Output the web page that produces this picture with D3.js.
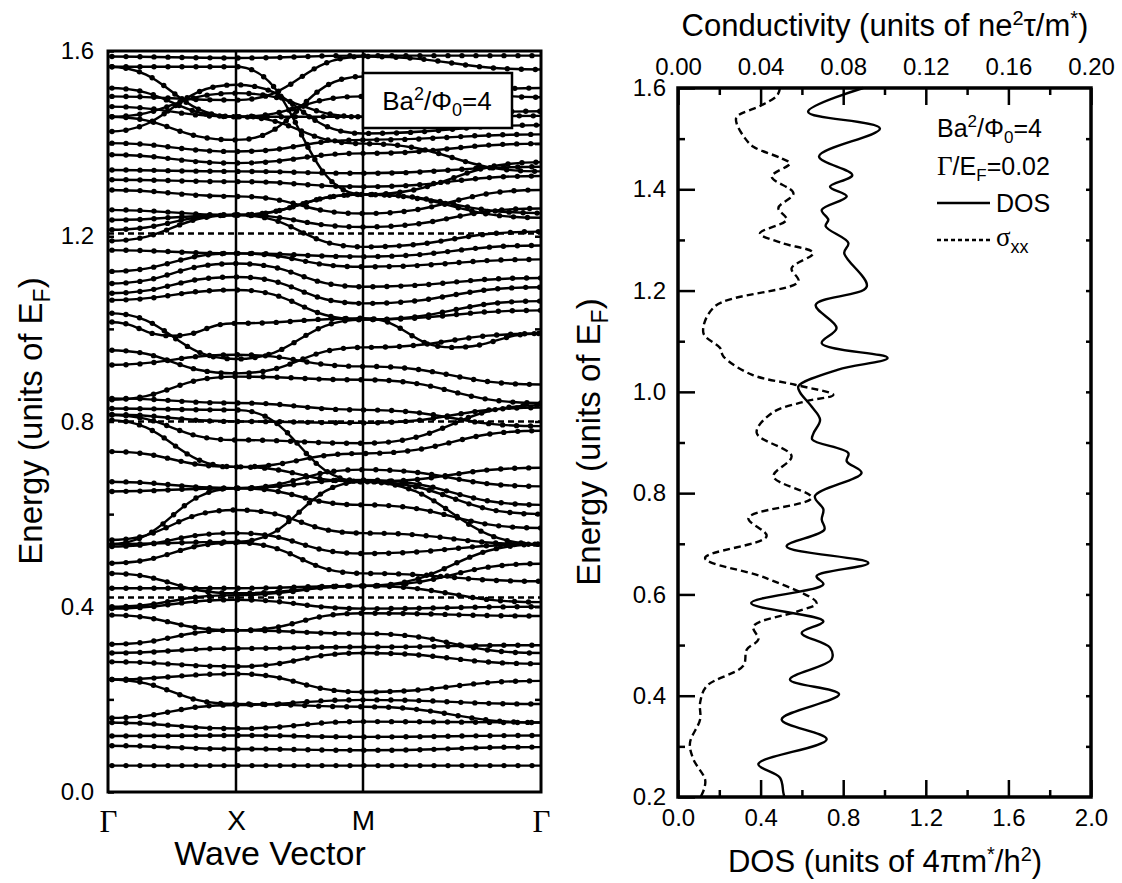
<!DOCTYPE html>
<html>
<head>
<meta charset="utf-8">
<script src="https://cdn.jsdelivr.net/npm/d3@7"></script>
<style>
  body { margin: 0; background: #fff; }
  svg { font-family: "Liberation Sans", Arial, sans-serif; }
</style>
</head>
<body>
<svg id="chart" width="1122" height="883"></svg>
<script>
// ---- data ----
// band energies (units of E_F) at k = [Γ, ΓX-mid, X, XM-mid, M, MΓ-mid, Γ]; null = no mid node
const kLabels = ['Γ', 'X', 'M', 'Γ'];
const kNodes = [0, 0.5, 1, 1.5, 2, 2.5, 3];
const bands = [
  [0.057, null, 0.057, null, 0.057, null, 0.057],
  [0.100, null, 0.093, null, 0.090, null, 0.097],
  [0.121, null, 0.122, null, 0.119, null, 0.122],
  [0.150, null, 0.137, null, 0.152, null, 0.150],
  [0.160, null, 0.188, null, 0.199, null, 0.190],
  [0.243, null, 0.190, null, 0.184, null, 0.150],
  [0.243, null, 0.255, null, 0.216, null, 0.240],
  [0.281, null, 0.271, null, 0.300, null, 0.277],
  [0.300, null, 0.310, null, 0.313, null, 0.317],
  [0.319, null, 0.349, null, 0.342, null, 0.300],
  [0.382, null, 0.349, null, 0.386, null, 0.380],
  [0.396, null, 0.415, null, 0.396, null, 0.400],
  [0.400, null, 0.425, null, 0.445, null, 0.535],
  [0.440, null, 0.440, null, 0.445, null, 0.493],
  [0.472, null, 0.429, null, 0.445, null, 0.410],
  [0.494, null, 0.538, null, 0.472, null, 0.455],
  [0.530, null, 0.559, null, 0.515, null, 0.535],
  [0.535, null, 0.656, null, 0.620, null, 0.570],
  [0.544, null, 0.609, null, 0.559, null, 0.535],
  [0.535, null, 0.540, null, 0.670, null, 0.600],
  [0.649, null, 0.656, null, 0.674, null, 0.620],
  [0.670, null, 0.656, null, 0.696, null, 0.660],
  [0.735, null, 0.702, null, 0.670, null, 0.700],
  [0.803, null, 0.702, null, 0.731, null, 0.780],
  [0.814, null, 0.760, null, 0.753, null, 0.835],
  [0.815, null, 0.800, null, 0.797, null, 0.830],
  [0.828, null, 0.825, null, 0.670, null, 0.535],
  [0.847, null, 0.897, null, 0.890, null, 0.840],
  [0.850, null, 0.840, null, 0.825, null, 0.790],
  [0.922, null, 0.944, null, 0.919, null, 0.880],
  [0.954, null, 0.904, null, 0.960, null, 0.990],
  [1.015, 0.985, 1.012, null, 1.023, 0.960, 0.990],
  [1.034, null, 0.935, null, 1.020, null, 1.060],
  [1.062, null, 1.084, null, 1.020, null, 1.040],
  [1.077, null, 1.112, null, 1.055, null, 1.090],
  [1.098, null, 1.141, null, 1.091, null, 1.110],
  [1.124, null, 1.163, null, 1.134, null, 1.150],
  [1.170, null, 1.163, null, 1.156, null, 1.180],
  [1.214, null, 1.246, null, 1.177, null, 1.210],
  [1.235, null, 1.246, null, 1.290, null, 1.240],
  [1.257, null, 1.246, null, 1.220, null, 1.260],
  [1.190, null, 1.246, null, 1.290, null, 1.360],
  [1.300, null, 1.286, null, 1.249, null, 1.300],
  [1.322, null, 1.318, null, 1.307, null, 1.330],
  [1.343, null, 1.340, null, 1.336, null, 1.350],
  [1.376, null, 1.358, null, 1.379, null, 1.400],
  [1.401, null, 1.383, null, 1.408, null, 1.420],
  [1.426, null, 1.527, null, 1.422, null, 1.440],
  [1.458, null, 1.509, null, 1.458, null, 1.470],
  [1.458, null, 1.408, null, 1.545, null, 1.500],
  [1.480, null, 1.458, null, 1.502, null, 1.520],
  [1.502, null, 1.494, null, 1.588, null, 1.560],
  [1.520, null, 1.458, null, 1.400, null, 1.340],
  [1.566, null, 1.566, null, 1.290, null, 1.250],
  [1.588, null, 1.585, null, 1.590, null, 1.590],
  [1.566, null, 1.458, null, 1.458, null, 1.460]
];
// dashed levels drawn across the band panel
const dashedLevels = [0.42, 0.80, 1.206];

// right panel: energy, DOS and conductivity
const dosEnergy = [1.600, 1.553, 1.520, 1.465, 1.428, 1.405, 1.386, 1.359, 1.340, 1.327, 1.294, 1.274,
  1.208, 1.172, 1.126, 1.096, 1.067, 1.044, 1.011, 0.999, 0.971, 0.945, 0.918, 0.906, 0.879, 0.863,
  0.840, 0.794, 0.768, 0.748, 0.728, 0.695, 0.662, 0.636, 0.620, 0.583, 0.547, 0.524, 0.495, 0.472,
  0.432, 0.403, 0.353, 0.314, 0.265, 0.238, 0.209, 0.200];
const dosValue = [0.897, 0.630, 0.978, 0.683, 0.844, 0.736, 0.817, 0.696, 0.728, 0.715, 0.825, 0.805,
  0.914, 0.667, 0.768, 0.696, 1.015, 0.776, 0.583, 0.591, 0.647, 0.688, 0.656, 0.650, 0.825, 0.817,
  0.889, 0.663, 0.704, 0.696, 0.709, 0.526, 0.922, 0.671, 0.704, 0.354, 0.704, 0.599, 0.736, 0.744,
  0.542, 0.780, 0.502, 0.720, 0.389, 0.494, 0.510, 0.515];
const sigmaEnergy = [1.600, 1.585, 1.566, 1.543, 1.530, 1.501, 1.484, 1.461, 1.451, 1.425, 1.392, 1.363,
  1.340, 1.313, 1.294, 1.274, 1.244, 1.218, 1.169, 1.116, 1.087, 1.070, 1.034, 1.014, 0.994, 0.981,
  0.958, 0.919, 0.873, 0.833, 0.791, 0.751, 0.715, 0.672, 0.633, 0.583, 0.567, 0.537, 0.511, 0.491,
  0.459, 0.419, 0.386, 0.353, 0.307, 0.275, 0.235, 0.218, 0.200];
const sigmaValue = [0.0494, 0.0480, 0.0405, 0.0284, 0.0284, 0.0324, 0.0365, 0.0502, 0.0542, 0.0454,
  0.0559, 0.0486, 0.0526, 0.0397, 0.0502, 0.0655, 0.0550, 0.0583, 0.0179, 0.0123, 0.0203, 0.0220,
  0.0357, 0.0567, 0.0752, 0.0615, 0.0454, 0.0381, 0.0550, 0.0462, 0.0647, 0.0341, 0.0429, 0.0131,
  0.0421, 0.0671, 0.0583, 0.0365, 0.0389, 0.0333, 0.0316, 0.0139, 0.0107, 0.0107, 0.0058, 0.0074,
  0.0131, 0.0128, 0.0110];

const energyTicksLeft = [0, 0.4, 0.8, 1.2, 1.6];
const energyTicksRight = [0.2, 0.4, 0.6, 0.8, 1.0, 1.2, 1.4, 1.6];
const dosTicks = [0, 0.4, 0.8, 1.2, 1.6, 2.0];
const sigmaTicks = [0, 0.04, 0.08, 0.12, 0.16, 0.20];

// ---- layout ----
const svg = d3.select('#chart');
const left = { x0: 108, x1: 541, y0: 51, y1: 792 };
const right = { x0: 678, x1: 1091, y0: 88, y1: 797 };

const xK = d3.scaleLinear().domain([0, 1, 2, 3]).range([left.x0, 236, 363, left.x1]);
const yL = d3.scaleLinear().domain([0, 1.6]).range([left.y1, left.y0]);
const xDos = d3.scaleLinear().domain([0, 2]).range([right.x0, right.x1]);
const xSig = d3.scaleLinear().domain([0, 0.2]).range([right.x0, right.x1]);
const yR = d3.scaleLinear().domain([0.2, 1.6]).range([right.y1, right.y0]);

function styleAxis(g, size) {
  g.select('.domain').remove();
  g.selectAll('.tick line').attr('stroke', '#000').attr('stroke-width', 2.5);
  g.selectAll('.tick text').attr('fill', '#000').attr('font-size', size)
    .attr('font-family', '"Liberation Sans", Arial, sans-serif');
}

// ---- left panel: band structure ----
svg.append('defs').append('clipPath').attr('id', 'bandClip')
  .append('rect')
  .attr('x', left.x0).attr('y', left.y0)
  .attr('width', left.x1 - left.x0).attr('height', left.y1 - left.y0);

const bandGroup = svg.append('g').attr('clip-path', 'url(#bandClip)');

const bandLine = d3.line()
  .x(d => xK(d[0]))
  .y(d => yL(d[1]))
  .curve(d3.curveBumpX);

const bandPaths = bandGroup.selectAll('path.band')
  .data(bands.map(b => b.map((e, i) => [kNodes[i], e]).filter(p => p[1] !== null)))
  .join('path')
  .attr('class', 'band')
  .attr('d', bandLine)
  .attr('fill', 'none')
  .attr('stroke', '#000')
  .attr('stroke-width', 2.4);

// dots sampled along each drawn band
const dots = [];
bandPaths.each(function () {
  const len = this.getTotalLength();
  for (let s = 4; s < len; s += 14) {
    const p = this.getPointAtLength(s);
    dots.push([p.x, p.y]);
  }
});
bandGroup.selectAll('circle')
  .data(dots)
  .join('circle')
  .attr('cx', d => d[0]).attr('cy', d => d[1])
  .attr('r', 2.7).attr('fill', '#000');

bandGroup.selectAll('line.level')
  .data(dashedLevels)
  .join('line')
  .attr('class', 'level')
  .attr('x1', left.x0).attr('x2', left.x1)
  .attr('y1', d => yL(d)).attr('y2', d => yL(d))
  .attr('stroke', '#000').attr('stroke-width', 2.5)
  .attr('stroke-dasharray', '6,4');

// symmetry point verticals
svg.selectAll('line.sym')
  .data([1, 2])
  .join('line')
  .attr('class', 'sym')
  .attr('x1', d => xK(d)).attr('x2', d => xK(d))
  .attr('y1', left.y0).attr('y2', left.y1)
  .attr('stroke', '#000').attr('stroke-width', 2.5);

// axes
svg.append('g')
  .attr('transform', `translate(${left.x0},0)`)
  .call(d3.axisLeft(yL).tickValues(energyTicksLeft).tickSize(-6).tickPadding(14).tickFormat(d3.format('.1f')))
  .call(g => styleAxis(g, 24));
svg.append('g')
  .attr('transform', `translate(${left.x0},0)`)
  .call(d3.axisLeft(yL).tickValues([0.2, 0.6, 1.0, 1.4]).tickSize(-6).tickFormat(''))
  .call(g => styleAxis(g, 24));
svg.append('g')
  .attr('transform', `translate(${left.x1},0)`)
  .call(d3.axisRight(yL).tickValues(d3.range(0.2, 1.6, 0.2)).tickSize(-6).tickFormat(''))
  .call(g => styleAxis(g, 24));

const kAxis = svg.append('g')
  .attr('transform', `translate(0,${left.y1})`)
  .call(d3.axisBottom(xK).tickValues([0, 1, 2, 3]).tickSize(0).tickPadding(18).tickFormat((d, i) => kLabels[i]))
  .call(g => styleAxis(g, 28));
kAxis.selectAll('.tick text')
  .filter(d => d === 0 || d === 3)
  .attr('font-family', '"Liberation Serif", "Times New Roman", serif')
  .attr('font-size', 31);

svg.append('rect')
  .attr('x', left.x0).attr('y', left.y0)
  .attr('width', left.x1 - left.x0).attr('height', left.y1 - left.y0)
  .attr('fill', 'none').attr('stroke', '#000').attr('stroke-width', 3);

// label box
const box = svg.append('g');
box.append('rect')
  .attr('x', 363).attr('y', 73).attr('width', 149).attr('height', 55)
  .attr('fill', '#fff').attr('stroke', '#000').attr('stroke-width', 2.5);
const boxText = box.append('text').attr('x', 437).attr('y', 110)
  .attr('text-anchor', 'middle').attr('font-size', 26);
boxText.append('tspan').text('Ba');
boxText.append('tspan').attr('dy', -10).attr('font-size', 18).text('2');
boxText.append('tspan').attr('dy', 10).text('/Φ');
boxText.append('tspan').attr('dy', 6).attr('font-size', 18).text('0');
boxText.append('tspan').attr('dy', -6).text('=4');

// titles
function energyTitle(x, y) {
  const t = svg.append('text')
    .attr('transform', `translate(${x},${y}) rotate(-90)`)
    .attr('text-anchor', 'middle').attr('font-size', 33);
  t.append('tspan').text('Energy (units of E');
  t.append('tspan').attr('dy', 8).attr('font-size', 23).text('F');
  t.append('tspan').attr('dy', -8).text(')');
}
energyTitle(42, 421);
svg.append('text').attr('x', 270).attr('y', 865)
  .attr('text-anchor', 'middle').attr('font-size', 34).text('Wave Vector');

// ---- right panel: DOS and conductivity ----
svg.append('g')
  .attr('transform', `translate(${right.x0},0)`)
  .call(d3.axisLeft(yR).tickValues(energyTicksRight).tickSize(-17).tickPadding(12).tickFormat(d3.format('.1f')))
  .call(g => styleAxis(g, 24));
svg.append('g')
  .attr('transform', `translate(${right.x0},0)`)
  .call(d3.axisLeft(yR).tickValues(d3.range(0.3, 1.6, 0.2)).tickSize(-7).tickFormat(''))
  .call(g => styleAxis(g, 24));
svg.append('g')
  .attr('transform', `translate(${right.x1},0)`)
  .call(d3.axisRight(yR).tickValues(d3.range(0.3, 1.6, 0.1)).tickSize(-5).tickFormat(''))
  .call(g => styleAxis(g, 24));
svg.append('g')
  .attr('transform', `translate(0,${right.y1})`)
  .call(d3.axisBottom(xDos).tickValues(dosTicks).tickSize(-17).tickPadding(12).tickFormat(d3.format('.1f')))
  .call(g => styleAxis(g, 24));
svg.append('g')
  .attr('transform', `translate(0,${right.y1})`)
  .call(d3.axisBottom(xDos).tickValues([0.2, 0.6, 1.0, 1.4, 1.8]).tickSize(-7).tickFormat(''))
  .call(g => styleAxis(g, 24));
svg.append('g')
  .attr('transform', `translate(0,${right.y0})`)
  .call(d3.axisTop(xSig).tickValues(sigmaTicks).tickSize(-17).tickPadding(13).tickFormat(d3.format('.2f')))
  .call(g => styleAxis(g, 24));
svg.append('g')
  .attr('transform', `translate(0,${right.y0})`)
  .call(d3.axisTop(xSig).tickValues([0.02, 0.06, 0.10, 0.14, 0.18]).tickSize(-7).tickFormat(''))
  .call(g => styleAxis(g, 24));

svg.append('rect')
  .attr('x', right.x0).attr('y', right.y0)
  .attr('width', right.x1 - right.x0).attr('height', right.y1 - right.y0)
  .attr('fill', 'none').attr('stroke', '#000').attr('stroke-width', 3.5);

const dosLine = d3.line()
  .x(d => xDos(d[1])).y(d => yR(d[0]))
  .curve(d3.curveCatmullRom.alpha(0.5));
const sigLine = d3.line()
  .x(d => xSig(d[1])).y(d => yR(d[0]))
  .curve(d3.curveCatmullRom.alpha(0.5));

svg.append('path')
  .datum(dosEnergy.map((e, i) => [e, dosValue[i]]))
  .attr('d', dosLine)
  .attr('fill', 'none').attr('stroke', '#000').attr('stroke-width', 2.4);
svg.append('path')
  .datum(sigmaEnergy.map((e, i) => [e, sigmaValue[i]]))
  .attr('d', sigLine)
  .attr('fill', 'none').attr('stroke', '#000').attr('stroke-width', 2.4)
  .attr('stroke-dasharray', '7,4');

// legend
const lg = svg.append('g').attr('font-size', 25);
const l1 = lg.append('text').attr('x', 937).attr('y', 137);
l1.append('tspan').text('Ba');
l1.append('tspan').attr('dy', -10).attr('font-size', 17).text('2');
l1.append('tspan').attr('dy', 10).text('/Φ');
l1.append('tspan').attr('dy', 6).attr('font-size', 17).text('0');
l1.append('tspan').attr('dy', -6).text('=4');
const l2 = lg.append('text').attr('x', 937).attr('y', 175);
l2.append('tspan').attr('font-family', '"Liberation Serif", serif').attr('font-size', 27).text('Γ');
l2.append('tspan').text('/E');
l2.append('tspan').attr('dy', 6).attr('font-size', 17).text('F');
l2.append('tspan').attr('dy', -6).text('=0.02');
lg.append('line').attr('x1', 937).attr('x2', 990).attr('y1', 203).attr('y2', 203)
  .attr('stroke', '#000').attr('stroke-width', 2.4);
lg.append('text').attr('x', 996).attr('y', 212).text('DOS');
lg.append('line').attr('x1', 937).attr('x2', 990).attr('y1', 240).attr('y2', 240)
  .attr('stroke', '#000').attr('stroke-width', 2.4).attr('stroke-dasharray', '4,3');
const l4 = lg.append('text').attr('x', 996).attr('y', 246);
l4.append('tspan').attr('font-family', '"Liberation Serif", serif').attr('font-size', 27).text('σ');
l4.append('tspan').attr('dy', 7).attr('font-size', 18).text('xx');

// right panel titles
energyTitle(600, 442);
const ct = svg.append('text').attr('x', 885).attr('y', 36)
  .attr('text-anchor', 'middle').attr('font-size', 31);
ct.append('tspan').text('Conductivity (units of ne');
ct.append('tspan').attr('dy', -11).attr('font-size', 20).text('2');
ct.append('tspan').attr('dy', 11).text('τ/m');
ct.append('tspan').attr('dy', -11).attr('font-size', 20).text('*');
ct.append('tspan').attr('dy', 11).text(')');
const dt = svg.append('text').attr('x', 885).attr('y', 872)
  .attr('text-anchor', 'middle').attr('font-size', 31);
dt.append('tspan').text('DOS (units of 4πm');
dt.append('tspan').attr('dy', -11).attr('font-size', 20).text('*');
dt.append('tspan').attr('dy', 11).text('/h');
dt.append('tspan').attr('dy', -11).attr('font-size', 20).text('2');
dt.append('tspan').attr('dy', 11).text(')');
</script>
</body>
</html>
